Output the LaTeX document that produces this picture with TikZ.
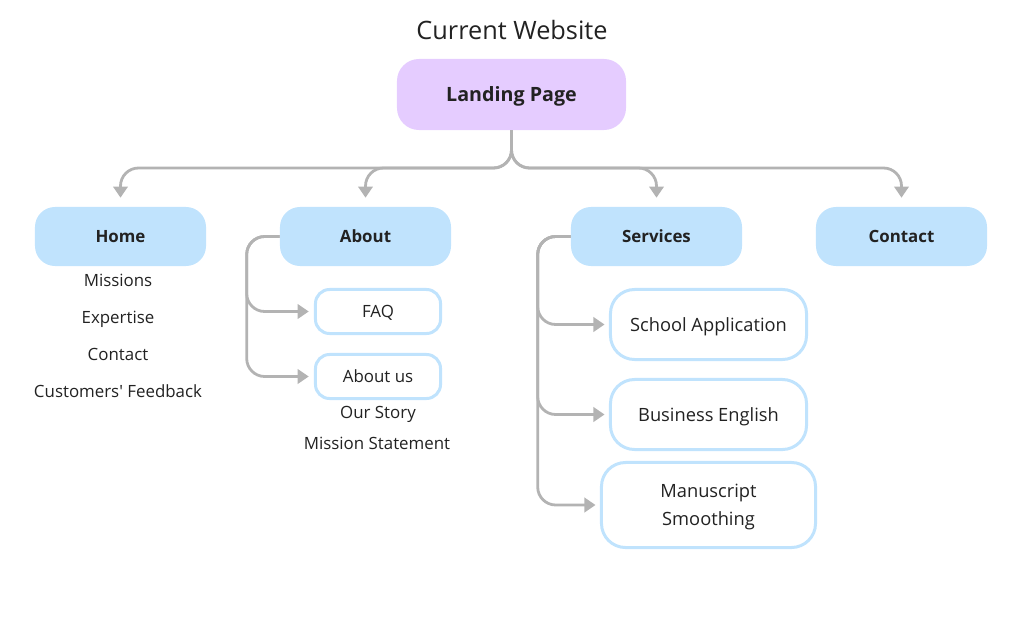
\documentclass[tikz,border=0pt]{standalone}
\usepackage{fontspec}
\setmainfont{Open Sans}[Ligatures=TeXOff]
\usepackage{tikz}
\usetikzlibrary{arrows.meta, positioning}
\definecolor{cwLanding}{HTML}{E5CCFF}
\definecolor{cwNav}{HTML}{C0E3FD}
\definecolor{cwLink}{HTML}{B3B3B3}
\definecolor{cwText}{HTML}{222222}
\tikzset{
  cw-landing/.style={
    rectangle, rounded corners=0.55cm, fill=cwLanding,
    minimum width=5.725cm, minimum height=1.775cm, text=cwText, text depth=0pt,
    font=\fontsize{14}{16}\selectfont\bfseries
  },
  cw-nav/.style={
    rectangle, rounded corners=0.5cm, fill=cwNav,
    minimum width=4.275cm, minimum height=1.475cm, text=cwText,
    font=\fontsize{12}{14}\selectfont\bfseries
  },
  cw-page/.style={
    rectangle, rounded corners=0.35cm, draw=cwNav, line width=0.075cm,
    fill=white, align=center, text=cwText, text depth=0pt,
    minimum width=3.125cm, minimum height=1.1cm,
    font=\fontsize{12}{14}\selectfont
  },
  cw-service/.style={
    cw-page, rounded corners=0.6cm, minimum width=4.9cm, minimum height=1.75cm,
    font=\fontsize{13}{20}\selectfont
  },
  cw-item/.style={inner sep=0pt, text=cwText, text depth=0pt,
    font=\fontsize{12}{14}\selectfont},
  cw-link/.style={-{Triangle[length=0.28cm,width=0.36cm]}, line width=0.07cm,
    draw=cwLink, rounded corners=0.45cm},
}

\begin{document}
\begin{tikzpicture}[x=0.025cm, y=-0.025cm]
  \useasboundingbox (0,0) rectangle (1024,624);

  \node[text=cwText, text depth=0pt, font=\fontsize{18}{20}\selectfont] (title) at (512,30) {Current Website};
  \node[cw-landing] (land) at (511.5,94.5) {Landing Page};

  \node[cw-nav] (home)    at (120.5,236.5) {Home};
  \node[cw-nav] (about)   at (365.5,236.5) {About};
  \node[cw-nav] (serv)    at (656.5,236.5) {Services};
  \node[cw-nav] (contact) at (901.5,236.5) {Contact};

  % home sections
  \node[cw-item] (h1) at (118,280) {Missions};
  \node[cw-item] (h2) at (118,317) {Expertise};
  \node[cw-item] (h3) at (118,354) {Contact};
  \node[cw-item] (h4) at (118,391) {Customers' Feedback};

  % about pages
  \node[cw-page] (faq)     at (378,311.5) {FAQ};
  \node[cw-page] (aboutus) at (378,376.5) {About us};
  \node[cw-item] (a1) at (378,412) {Our Story};
  \node[cw-item] (a2) at (377,443) {Mission Statement};

  % service pages
  \node[cw-service] (school)   at (708.5,324.5) {School Application};
  \node[cw-service] (business) at (708.5,414.5) {Business English};
  \node[cw-service, minimum width=5.35cm, minimum height=2.125cm]
                    (manu)     at (708.5,505) {Manuscript\\Smoothing};

  \coordinate (hub) at (land.south |- 0,168);
  \foreach \n in {home,about,serv,contact}
    \draw[cw-link, shorten >=0.225cm] (land.south) -- (hub) -| (\n.north);

  \draw[cw-link, shorten >=0.13cm] (about.west) -- ++(-33,0) |- (faq.west);
  \draw[cw-link, shorten >=0.13cm] (about.west) -- ++(-33,0) |- (aboutus.west);

  \draw[cw-link, shorten >=0.11cm] (serv.west) -- ++(-33,0) |- (school.west);
  \draw[cw-link, shorten >=0.11cm] (serv.west) -- ++(-33,0) |- (business.west);
  \draw[cw-link, shorten >=0.11cm] (serv.west) -- ++(-33,0) |- (manu.west);
\end{tikzpicture}
\end{document}
